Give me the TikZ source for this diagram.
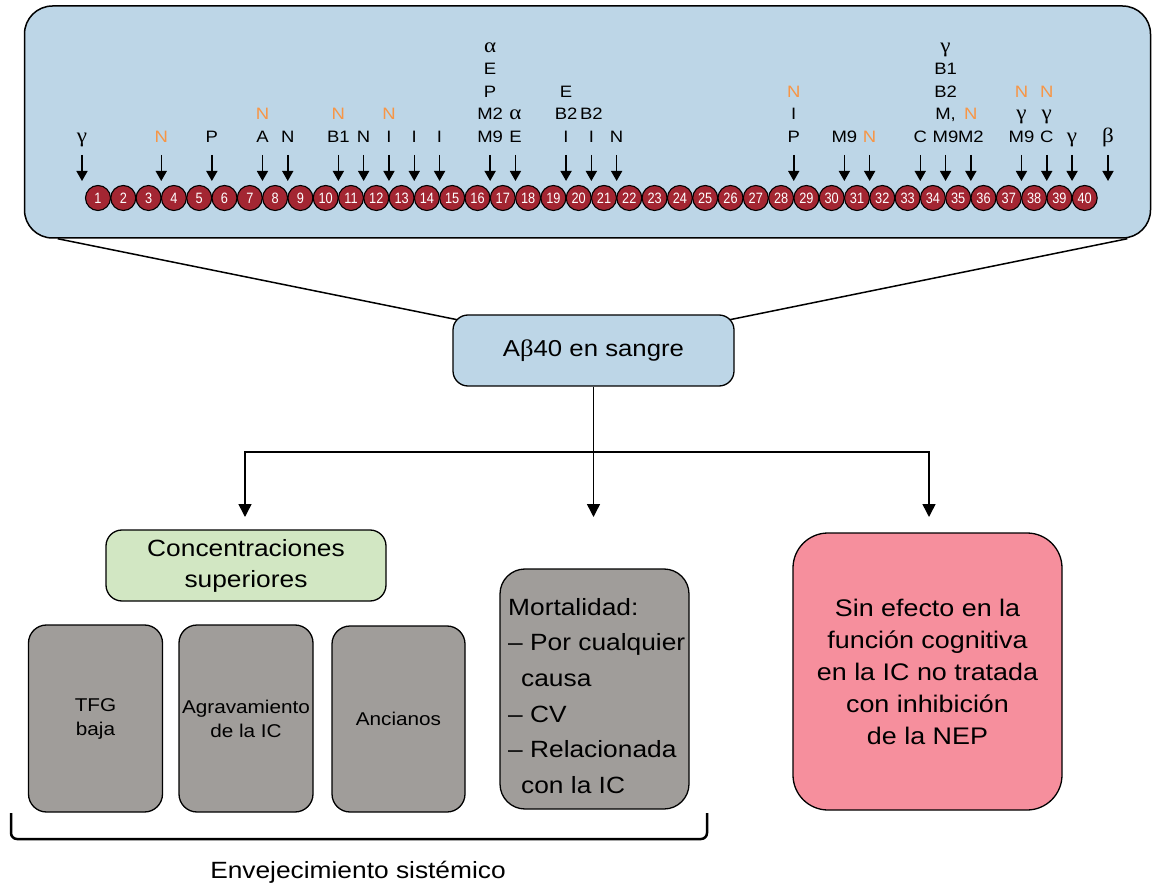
\documentclass[tikz,border=0pt]{standalone}
\usepackage{fontspec}
\setmainfont{Liberation Sans}[FakeStretch=1.12]
\newfontfamily\grk{Liberation Serif}[FakeStretch=1.12,Scale=1.25]
\newfontfamily\numfont{Liberation Sans}[FakeStretch=0.85]
\usetikzlibrary{arrows.meta,backgrounds,calc}

\definecolor{panelblue}{RGB}{189,214,231}
\definecolor{resred}{RGB}{163,38,50}
\definecolor{norange}{RGB}{247,150,70}
\definecolor{boxgreen}{RGB}{210,231,195}
\definecolor{boxgray}{RGB}{160,157,154}
\definecolor{boxpink}{RGB}{246,143,157}

\newcommand{\fsz}[2]{\fontsize{#1}{#2}\selectfont}

\begin{document}
\begin{tikzpicture}[x=1pt,y=-1pt,
  panel/.style={draw=black,line width=1.5pt,fill=panelblue,rounded corners=28pt,minimum width=1126pt,minimum height=232pt,inner sep=0pt},
  res/.style={circle,draw=black,line width=1.1pt,fill=resred,text=white,minimum size=25pt,inner sep=0pt,font=\numfont\fsz{15}{15}},
  toplab/.style={anchor=base,inner sep=0pt,font=\fsz{16.5}{18}},
  cut/.style={-{Triangle[width=11pt,length=10pt]},line width=1.5pt},
  rbox/.style={draw=black,line width=1.3pt,align=center,inner sep=2pt},
  conn/.style={line width=1.5pt},
  arr/.style={conn,-{Triangle[width=13pt,length=13pt]}},
]
\useasboundingbox (0,0) rectangle (1152,885);

% top panel
\node[panel] (panel) at (587.5,122) {};

% residues
\foreach \i in {1,...,40}
  \node[res] (c\i) at ({72.7+25.3*\i},198) {\i};

% cleavage arrows
\foreach \k in {3,5,7,8,10,11,12,13,14,16,17,19,20,21,28,30,31,33,34,35,37,38,39} {
  \coordinate (as\k) at ({85.35+25.3*\k},155);
  \coordinate (ae\k) at ({85.35+25.3*\k},181);
  \draw[cut] (as\k) -- (ae\k);
}
\coordinate (asg) at (82,155);
\coordinate (aeg) at (82,181);
\draw[cut] (asg) -- (aeg);
\coordinate (asb) at (1108,155);
\coordinate (aeb) at (1108,181);
\draw[cut] (asb) -- (aeb);

% labels
\foreach \k/\r/\t/\c in {3/1/N/norange, 5/1/P/black, 7/1/A/black, 7/2/N/norange,
  8/1/N/black, 10/1/B1/black, 10/2/N/norange, 11/1/N/black, 12/1/I/black,
  12/2/N/norange, 13/1/I/black, 14/1/I/black, 16/1/M9/black, 16/2/M2/black,
  16/3/P/black, 16/4/E/black, 16/5/{\grk α}/black, 17/1/E/black, 17/2/{\grk α}/black,
  19/1/I/black, 19/2/B2/black, 19/3/E/black, 20/1/I/black, 20/2/B2/black,
  21/1/N/black, 28/1/P/black, 28/2/I/black, 28/3/N/norange, 30/1/M9/black,
  31/1/N/norange, 33/1/C/black, 34/1/M9/black, 34/3/B2/black, 34/4/B1/black,
  34/5/{\grk γ}/black, 35/1/M2/black, 35/2/N/norange, 37/1/M9/black,
  37/2/{\grk γ}/black, 37/3/N/norange, 38/1/C/black, 38/2/{\grk γ}/black,
  38/3/N/norange, 39/1/{\grk γ}/black}
  \node[toplab,text=\c] (l\k-\r) at ({85.35+25.3*\k},{142.5-22.5*(\r-1)}) {\t};
\node[toplab] (l34-2) at ({85.35+25.3*34},120) {M,};
\node[toplab] (lg) at (82,142.5) {\grk γ};
\node[toplab] (lb) at (1108,142.5) {\grk β};

% central box
\node[rbox,fill=panelblue,minimum width=281pt,minimum height=71pt,rounded corners=15pt,font=\fsz{23}{27}] (ab) at (593.5,350.5) {A{\grk\fsz{19}{20}β}40 en sangre};

\begin{scope}[on background layer]
  \draw[conn] ($(panel.south west)+(34,0)$) -- ($(ab.north west)+(8,6)$);
  \draw[conn] ($(panel.south east)+(-24,0)$) -- ($(ab.north east)+(-8,6)$);
\end{scope}

% branching connectors
\coordinate (hm) at (593.5,452);
\coordinate (hl) at (245,452);
\coordinate (hr) at (929,452);
\coordinate (tl) at (245,517);
\coordinate (tm) at (593.5,517);
\coordinate (tr) at (929,517);
\draw[arr] (hm) -- (hl) -- (tl);
\draw[arr] (hm) -- (hr) -- (tr);
\draw[arr] (ab.south) -- (tm);

% lower boxes
\node[rbox,fill=boxgreen,minimum width=280pt,minimum height=71pt,rounded corners=16pt,font=\fsz{23.5}{31}] (conc) at (246,565.5) {Concentraciones\\superiores};
\node[rbox,fill=boxgray,minimum width=134pt,minimum height=187pt,rounded corners=18pt,font=\fsz{18.5}{24}] (tfg) at (95.5,718.5) {TFG\\baja};
\node[rbox,fill=boxgray,minimum width=134pt,minimum height=187pt,rounded corners=18pt,font=\fsz{18.5}{24}] (agr) at (246,718.5) {Agravamiento\\de la IC};
\node[rbox,fill=boxgray,minimum width=133pt,minimum height=186pt,rounded corners=18pt,font=\fsz{18.5}{24}] (anc) at (398.5,719) {Ancianos};
\node[rbox,fill=boxgray,minimum width=189pt,minimum height=240pt,rounded corners=25pt] (mort) at (594.5,689) {};
\node[anchor=north west,inner sep=0pt,align=left,font=\fsz{23.5}{35.6}] (morttxt) at (508,598) {Mortalidad:\\– Por cualquier\\\hspace*{13pt}causa\\– CV\\– Relacionada\\\hspace*{13pt}con la IC};
\node[rbox,fill=boxpink,minimum width=269pt,minimum height=277pt,rounded corners=35pt,font=\fsz{24}{32}] (nep) at (927.5,671.5) {Sin efecto en la\\función cognitiva\\en la IC no tratada\\con inhibición\\de la NEP};

% brace
\draw[line width=2.5pt,rounded corners=6pt] (11,813) -- (11,839) -- (707,839) -- (707,813);
\node[font=\fsz{23.5}{28}] (env) at (358,872) {Envejecimiento sistémico};
\end{tikzpicture}
\end{document}
